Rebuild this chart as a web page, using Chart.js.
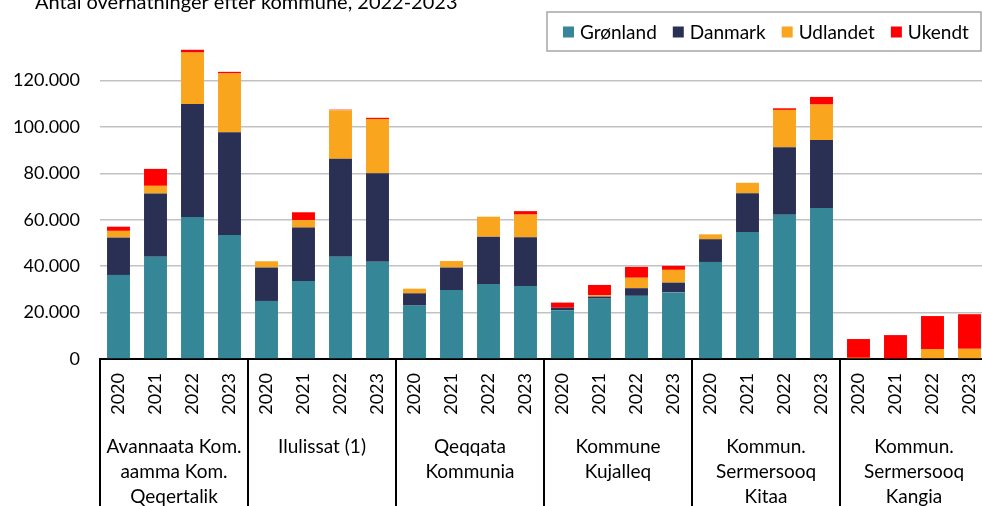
<!DOCTYPE html>
<html><head><meta charset="utf-8">
<script src="https://cdn.jsdelivr.net/npm/chart.js@4/dist/chart.umd.min.js"></script>
<style>
html,body{margin:0;padding:0;overflow:hidden;background:#fff;width:982px;height:506px}
#wrap{position:absolute;left:0;top:0;width:990px;height:540px}
</style></head><body>
<div id="wrap"><canvas id="c" width="990" height="540"></canvas></div>
<script>
const titleText = 'Antal overnatninger efter kommune, 2022-2023';
const years = ['2020', '2021', '2022', '2023'];
const municipalities = [
  ['Avannaata Kom.', 'aamma Kom.', 'Qeqertalik'],
  ['Ilulissat (1)'],
  ['Qeqqata', 'Kommunia'],
  ['Kommune', 'Kujalleq'],
  ['Kommun.', 'Sermersooq', 'Kitaa'],
  ['Kommun.', 'Sermersooq', 'Kangia']
];
const seriesNames = ['Grønland', 'Danmark', 'Udlandet', 'Ukendt'];
const gronland = [36200, 44000, 61200, 53400, 25000, 33600, 44100, 41900, 23000, 29700, 32300, 31500, 21000, 26000, 27200, 28700, 41800, 54700, 62100, 65100, 0, 0, 0, 0];
const danmark  = [16100, 27300, 48600, 44300, 14400, 23000, 42200, 38100, 5300, 9700, 20400, 20900, 1100, 900, 3300, 4200, 9800, 16700, 29100, 29200, 0, 0, 0, 0];
const udlandet = [2900, 3300, 22200, 25300, 2700, 3200, 20900, 23400, 2000, 2800, 8600, 9800, 0, 600, 4500, 5500, 2100, 4500, 16100, 15300, 500, 300, 4300, 4400];
const ukendt   = [1800, 7300, 1200, 700, 0, 3400, 200, 500, 0, 0, 0, 1500, 2200, 4400, 4700, 1700, 0, 0, 700, 3300, 8100, 10000, 14200, 14900];
const yTicksMax = 140000;
const yTickStep = 20000;

const colors = ['#358797', '#2A2F54', '#F9A51E', '#FF0000'];
const FONT = 'Lato';
const labels = municipalities.flatMap(() => years);

function fmt(v) { return String(v).replace(/\B(?=(\d{3})+(?!\d))/g, '.'); }

const decor = {
  id: 'decor',
  beforeDraw(chart) {
    const c = chart.ctx;
    c.save(); c.fillStyle = '#fff'; c.fillRect(0, 0, chart.width, chart.height); c.restore();
  },
  afterDraw(chart) {
    const c = chart.ctx;
    const xs = chart.scales.x;
    const area = chart.chartArea;
    c.save();
    // title
    c.fillStyle = '#000';
    c.font = '20px ' + FONT;
    c.textBaseline = 'alphabetic';
    c.textAlign = 'left';
    c.fillText(titleText, 35, 9);
    // separators
    c.strokeStyle = '#000';
    c.lineWidth = 2;
    const n = municipalities.length;
    for (let g = 0; g <= n; g++) {
      let x;
      if (g === 0) x = area.left;
      else if (g === n) x = area.right;
      else x = (xs.getPixelForValue(4 * g - 1) + xs.getPixelForValue(4 * g)) / 2;
      x = Math.round(x);
      c.beginPath(); c.moveTo(x, xs.top); c.lineTo(x, chart.height); c.stroke();
    }
    // group labels
    c.font = '19px ' + FONT;
    c.textAlign = 'center';
    c.textBaseline = 'middle';
    municipalities.forEach((lines, g) => {
      const cx = (xs.getPixelForValue(4 * g) + xs.getPixelForValue(4 * g + 3)) / 2;
      lines.forEach((t, i) => c.fillText(t, cx, 447 + i * 25));
    });
    // legend
    c.font = '19px ' + FONT;
    c.textAlign = 'left';
    let x = 563;
    const cy = 32;
    const items = chart.data.datasets;
    const pos = [];
    items.forEach((ds) => {
      pos.push(x);
      const w = c.measureText(ds.label).width;
      x += 11 + 6 + w + 16;
    });
    const right = x - 16 + 7;
    c.strokeStyle = '#a6a6a6';
    c.lineWidth = 1.5;
    c.strokeRect(547, 12, Math.max(right, 981) - 547, 39);
    items.forEach((ds, i) => {
      c.fillStyle = ds.backgroundColor;
      c.fillRect(pos[i], cy - 5.5, 11, 11);
      c.fillStyle = '#000';
      c.fillText(ds.label, pos[i] + 17, cy + 1);
    });
    c.restore();
  }
};

const seriesData = [gronland, danmark, udlandet, ukendt];
new Chart(document.getElementById('c'), {
  type: 'bar',
  data: {
    labels: labels,
    datasets: seriesData.map((d, i) => ({
      label: seriesNames[i],
      data: d,
      backgroundColor: colors[i],
      borderWidth: 0,
      barPercentage: 0.62,
      categoryPercentage: 1.0
    }))
  },
  options: {
    responsive: false,
    animation: false,
    devicePixelRatio: 1,
    layout: { padding: { left: 0, top: 34, right: 2, bottom: 0 } },
    plugins: { legend: { display: false }, title: { display: false }, tooltip: { enabled: false } },
    scales: {
      x: {
        stacked: true,
        grid: { display: false, drawTicks: false },
        border: { display: true, color: '#000', width: 2 },
        ticks: {
          autoSkip: false, maxRotation: 90, minRotation: 90, padding: 14,
          color: '#000', font: { family: FONT, size: 18 }
        },
        afterFit(scale) { scale.height = 181; scale.paddingLeft = 0; scale.paddingRight = 0; }
      },
      y: {
        stacked: true,
        min: 0, max: yTicksMax,
        border: { display: false },
        grid: {
          drawTicks: false, lineWidth: 1.5,
          color: (ctx) => (ctx.tick && ctx.tick.value === yTicksMax) ? 'rgba(0,0,0,0)' : '#c2c2c2'
        },
        ticks: {
          stepSize: yTickStep, padding: 20, color: '#000',
          font: { family: FONT, size: 18 },
          callback: (v) => v === yTicksMax ? '' : fmt(v)
        },
        afterFit(scale) { scale.width = 100; scale.paddingTop = 0; scale.paddingBottom = 0; }
      }
    }
  },
  plugins: [decor]
});
</script>
</body></html>
